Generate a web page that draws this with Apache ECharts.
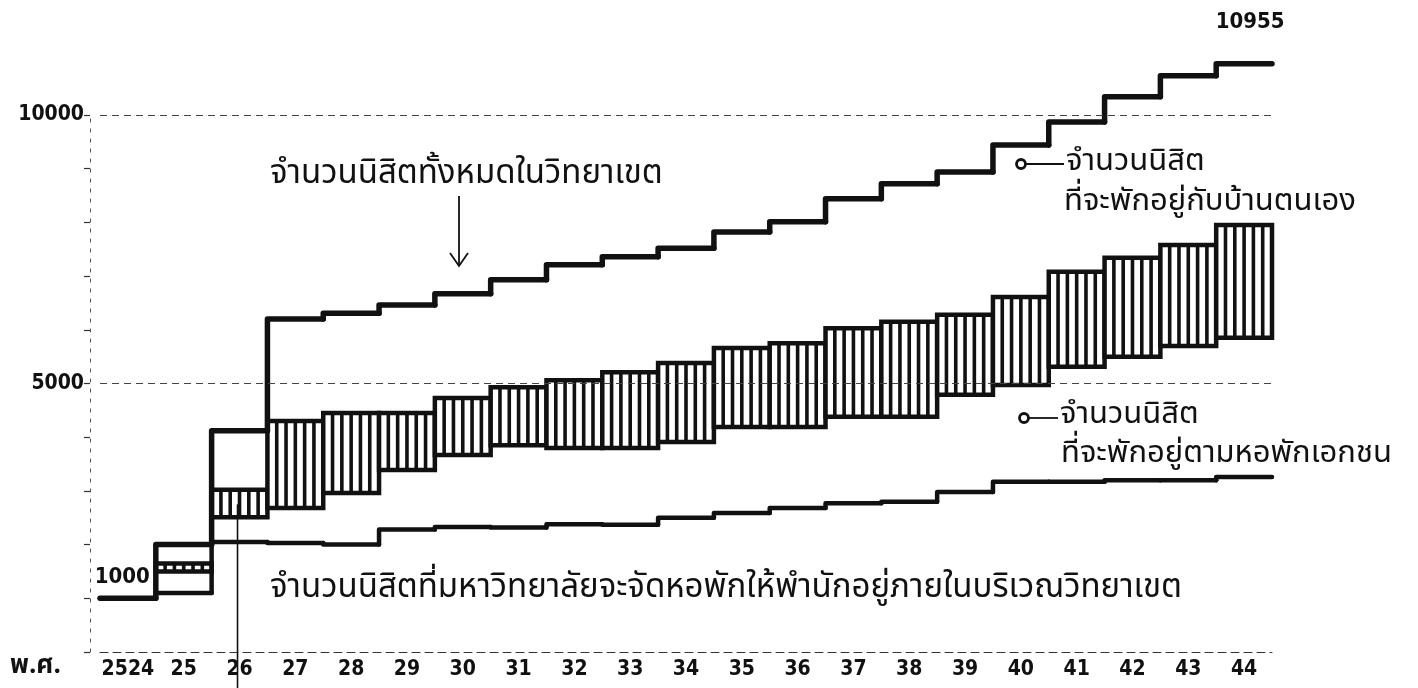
<!DOCTYPE html>
<html><head><meta charset="utf-8">
<script src="https://cdn.jsdelivr.net/npm/echarts@6/dist/echarts.min.js"></script>
<style>html,body{margin:0;padding:0;background:#fff}#c{width:1418px;height:688px}</style>
</head><body><div id="c"></div>
<script>
// ---- data ----
const years = ['2524','25','26','27','28','29','30','31','32','33','34','35','36','37','38','39','40','41','42','43','44'];
const totalStudents = [1000,2000,4120,6200,6310,6460,6670,6930,7210,7360,7520,7820,8010,8440,8720,8940,9440,9870,10340,10730,10955];
const hatchTop    = [null,1650,3020,4300,4450,4450,4730,4930,5060,5210,5380,5660,5750,6030,6150,6280,6610,7080,7340,7580,7950];
const hatchBottom = [null,1500,2510,2680,2960,3390,3670,3850,3800,3800,3910,4190,4190,4380,4380,4790,4970,5310,5500,5700,5850];
const campusDorm  = [1000,1100,2050,2030,2000,2280,2330,2320,2380,2370,2500,2590,2680,2770,2800,2980,3170,3170,3200,3200,3260];
const yLabelValues = [5000,10000];
const markerYear = '26';
const markerFrom = 2750;

const THAI = "'Noto Sans Thai','Noto Serif Thai','Loma','Garuda','Norasi','Tlwg Typo','Noto Sans',sans-serif";
const NUM = "'DejaVu Sans Condensed','Liberation Sans Narrow','Roboto Condensed','Liberation Sans',sans-serif";
const INK = '#111';

function stepRender(values, width, labels) {
  return function (params, api) {
    const i = params.dataIndex;
    const v = values[i];
    const p = api.coord([i, v]);
    const bw = api.size([1, 0])[0];
    const x0 = p[0] - bw / 2, x1 = p[0] + bw / 2;
    const pts = [];
    if (i > 0 && values[i - 1] != null) pts.push([x0, api.coord([i, values[i - 1]])[1]]);
    pts.push([x0, p[1]], [x1, p[1]]);
    const children = [{type: 'polyline', shape: {points: pts},
      style: {stroke: INK, lineWidth: width, fill: null, lineJoin: 'round', lineCap: 'round'}}];
    if (labels && i === 0) {
      children.push({type: 'text', style: {text: String(v), x: x1 - 6, y: p[1] - 10, align: 'right', verticalAlign: 'bottom',
        font: 'bold 22px ' + NUM, fill: INK}});
    }
    if (labels && i === values.length - 1) {
      children.push({type: 'text', style: {text: String(v), x: p[0] + 6, y: p[1] - 41, align: 'center', verticalAlign: 'middle',
        font: 'bold 22px ' + NUM, fill: INK}});
    }
    return {type: 'group', children};
  };
}

function hatchRender(params, api) {
  const i = params.dataIndex;
  if (hatchTop[i] == null) return;
  const pT = api.coord([i, hatchTop[i]]), pB = api.coord([i, hatchBottom[i]]);
  const bw = api.size([1, 0])[0];
  const x0 = pT[0] - bw / 2;
  const h = pB[1] - pT[1];
  const children = [];
  children.push({type: 'rect', shape: {x: x0, y: pT[1], width: bw, height: h}, style: {fill: '#fff', stroke: null}});
  const n = Math.round(bw / 9.3);
  for (let k = 1; k < n; k++) {
    const x = x0 + k * bw / n;
    children.push({type: 'line', shape: {x1: x, y1: pT[1], x2: x, y2: pB[1]}, style: {stroke: INK, lineWidth: 3.6}});
  }
  children.push({type: 'rect', shape: {x: x0, y: pT[1], width: bw, height: h}, style: {fill: null, stroke: INK, lineWidth: 4.5}});
  return {type: 'group', children};
}

function markerRender(params, api) {
  const p = api.coord([api.value(0), api.value(1)]);
  return {type: 'line', shape: {x1: p[0] - 2, y1: p[1], x2: p[0] - 2, y2: api.getHeight()}, style: {stroke: INK, lineWidth: 1.6}};
}

const chart = echarts.init(document.getElementById('c'), null, {renderer: 'canvas'});
const idx = years.map((y, i) => i);

chart.setOption({
  backgroundColor: '#fff',
  animation: false,
  grid: {left: 100, right: 146, top: 115, bottom: 36, containLabel: false},
  xAxis: {
    type: 'category', data: years, boundaryGap: true,
    axisLine: {show: true, lineStyle: {color: '#333', width: 1, type: [8, 5]}},
    axisTick: {show: false},
    axisLabel: {interval: 0, color: INK, fontFamily: NUM, fontWeight: 'bold', fontSize: 21, margin: 7}
  },
  yAxis: {
    type: 'value', min: 0, max: 10000, interval: 1000, offset: 10,
    axisLine: {show: true, lineStyle: {color: '#555', width: 1, type: [3, 7]}},
    axisTick: {show: true, length: 6, inside: false, lineStyle: {color: '#333', width: 1.2}},
    splitLine: {show: false},
    axisLabel: {color: INK, fontFamily: NUM, fontWeight: 'bold', fontSize: 21, margin: 6,
      formatter: v => yLabelValues.indexOf(v) >= 0 ? String(v) : ''}
  },
  series: [
    {type: 'custom', name: 'hatch', renderItem: hatchRender, clip: false, data: idx.map(i => [i, hatchTop[i], hatchBottom[i]]), z: 2,
      markLine: {silent: true, symbol: 'none', label: {show: false},
        lineStyle: {color: '#444', width: 1, type: [7, 5]}, data: yLabelValues.map(v => ({yAxis: v}))}},
    {type: 'custom', name: 'dorm', renderItem: stepRender(campusDorm, 4.5, false), clip: false, data: idx.map(i => [i, campusDorm[i]]), z: 3},
    {type: 'custom', name: 'total', renderItem: stepRender(totalStudents, 5.5, true), clip: false, data: idx.map(i => [i, totalStudents[i]]), z: 4},
    {type: 'custom', name: 'marker', renderItem: markerRender, clip: false, data: [[years.indexOf(markerYear), markerFrom]], z: 5}
  ],
  graphic: [
    {type: 'text', left: 10, top: 655, style: {text: 'พ.ศ.', font: 'bold 26px ' + THAI, fill: INK}},
    {type: 'text', x: 270, y: 176, style: {text: 'จำนวนนิสิตทั้งหมดในวิทยาเขต', font: '33px ' + THAI, fill: INK, verticalAlign: 'middle'}},
    {type: 'polyline', shape: {points: [[459, 196], [459, 265]]}, style: {stroke: INK, lineWidth: 1.8, fill: null}},
    {type: 'polyline', shape: {points: [[450, 253], [459, 266], [468, 253]]}, style: {stroke: INK, lineWidth: 1.8, fill: null}},
    {type: 'circle', shape: {cx: 1021, cy: 164, r: 4.5}, style: {stroke: INK, lineWidth: 2.8, fill: '#fff'}},
    {type: 'line', shape: {x1: 1026, y1: 164, x2: 1064, y2: 164}, style: {stroke: INK, lineWidth: 1.8}},
    {type: 'text', x: 1066, y: 164, style: {text: 'จำนวนนิสิต', font: '31px ' + THAI, fill: INK, verticalAlign: 'middle'}},
    {type: 'text', x: 1064, y: 204, style: {text: 'ที่จะพักอยู่กับบ้านตนเอง', font: '31px ' + THAI, fill: INK, verticalAlign: 'middle'}},
    {type: 'circle', shape: {cx: 1024, cy: 418, r: 4.5}, style: {stroke: INK, lineWidth: 2.8, fill: '#fff'}},
    {type: 'line', shape: {x1: 1029, y1: 418, x2: 1058, y2: 418}, style: {stroke: INK, lineWidth: 1.8}},
    {type: 'text', x: 1060, y: 417, style: {text: 'จำนวนนิสิต', font: '31px ' + THAI, fill: INK, verticalAlign: 'middle'}},
    {type: 'text', x: 1061, y: 456, style: {text: 'ที่จะพักอยู่ตามหอพักเอกชน', font: '31px ' + THAI, fill: INK, verticalAlign: 'middle'}},
    {type: 'text', x: 270, y: 590, style: {text: 'จำนวนนิสิตที่มหาวิทยาลัยจะจัดหอพักให้พำนักอยู่ภายในบริเวณวิทยาเขต', font: '33px ' + THAI, fill: INK, verticalAlign: 'middle'}}
  ]
});
</script></body></html>
